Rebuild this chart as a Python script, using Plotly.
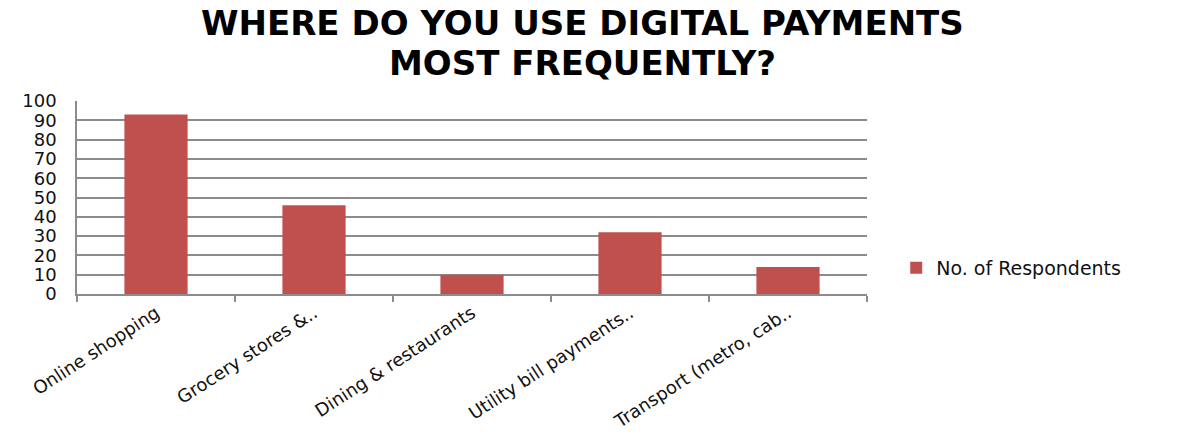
import plotly.graph_objects as go

# Survey responses: preferred place for digital payments
categories = [
    "Online shopping",
    "Grocery stores &..",
    "Dining & restaurants",
    "Utility bill payments..",
    "Transport (metro, cab..",
]
respondents = [93, 46, 10, 32, 14]
series_name = "No. of Respondents"
y_ticks = [0, 10, 20, 30, 40, 50, 60, 70, 80, 90, 100]
title_lines = ["WHERE DO YOU USE DIGITAL PAYMENTS", "MOST FREQUENTLY?"]

BAR_RED = "#C0504D"
GRID = "#8C8C8C"
TEXT = "#111111"

fig = go.Figure(
    go.Bar(
        x=categories,
        y=respondents,
        name=series_name,
        marker=dict(color=BAR_RED, line=dict(width=0)),
        showlegend=True,
    )
)

# two-line heading, each line placed above the plot area
for line, ypos in zip(title_lines, [1.405, 1.198]):
    fig.add_annotation(
        text=f"<b>{line}</b>",
        xref="paper",
        yref="paper",
        x=0.64,
        y=ypos,
        xanchor="center",
        yanchor="middle",
        showarrow=False,
        font=dict(family="DejaVu Sans", size=34, color="#000000"),
    )

fig.update_layout(
    width=1178,
    height=435,
    margin=dict(l=77, r=311, t=101, b=141, autoexpand=False),
    paper_bgcolor="white",
    plot_bgcolor="white",
    bargap=0.6,
    legend=dict(
        x=1.037,
        xanchor="left",
        y=0.135,
        yanchor="middle",
        font=dict(family="DejaVu Sans", size=19, color=TEXT),
        bgcolor="rgba(0,0,0,0)",
    ),
    # overlay axis carrying only the short visible tick marks
    yaxis2=dict(
        overlaying="y",
        side="left",
        range=[0, 100],
        tickvals=y_ticks,
        showticklabels=False,
        ticks="outside",
        ticklen=6,
        tickcolor=GRID,
        tickwidth=1.5,
        showgrid=False,
        zeroline=False,
        showline=False,
        automargin=False,
    ),
)

# label axis: transparent long ticks push the numbers away from the axis line
fig.update_yaxes(
    selector=dict(anchor="x"),
    range=[0, 100],
    tickvals=y_ticks,
    ticktext=[str(v) for v in y_ticks],
    automargin=False,
    showgrid=True,
    gridcolor=GRID,
    gridwidth=1.5,
    showline=True,
    linecolor=GRID,
    linewidth=1.5,
    ticks="outside",
    ticklen=15,
    tickcolor="rgba(0,0,0,0)",
    tickwidth=1.5,
    tickfont=dict(family="DejaVu Sans", size=18, color=TEXT),
    zeroline=False,
)
fig.layout.yaxis.update(
    range=[0, 100],
    tickvals=y_ticks,
    ticktext=[str(v) for v in y_ticks],
    automargin=False,
    showgrid=True,
    gridcolor=GRID,
    gridwidth=1.5,
    showline=True,
    linecolor=GRID,
    linewidth=1.5,
    ticks="outside",
    ticklen=15,
    tickcolor="rgba(0,0,0,0)",
    tickwidth=1.5,
    tickfont=dict(family="DejaVu Sans", size=18, color=TEXT),
    zeroline=False,
)

fig.update_xaxes(
    automargin=False,
    showline=True,
    linecolor=GRID,
    linewidth=1.5,
    ticks="outside",
    tickson="boundaries",
    ticklen=6,
    tickcolor=GRID,
    tickwidth=1.5,
    tickangle=-33,
    tickfont=dict(family="DejaVu Sans", size=18, color=TEXT),
    showgrid=False,
)

fig.write_html("out.html")
